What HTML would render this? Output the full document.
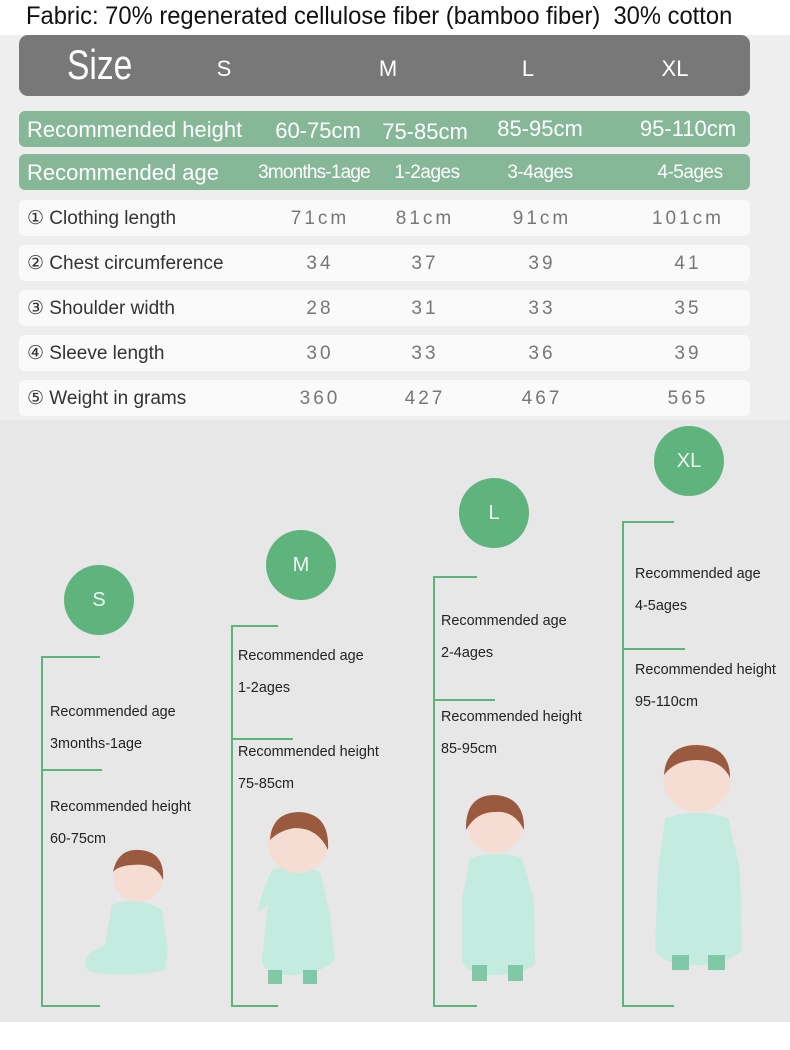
<!DOCTYPE html>
<html><head><meta charset="utf-8"><style>
*{margin:0;padding:0;box-sizing:border-box}
body{width:790px;height:1050px;background:#fff;position:relative;overflow:hidden;font-family:"Liberation Sans",sans-serif}
.a{position:absolute;white-space:nowrap}
.row{position:absolute;left:19px;width:731px;height:36px;border-radius:6px}
.g{background:#86b898;color:#fff;font-size:22px}
.w{background:#fafafa;color:#333;font-size:19px}
.v{position:absolute;transform:translateX(-50%);top:8px;letter-spacing:3px;color:#777;font-size:19px;white-space:nowrap}
.gv{position:absolute;transform:translateX(-50%);top:5px;white-space:nowrap}
.lbl{position:absolute;left:8px;top:7px;white-space:nowrap}
.t{position:absolute;font-size:15px;color:#222;white-space:nowrap;transform:scaleX(0.96);transform-origin:left}
.ln{position:absolute;background:#5cb47a}
.c{position:absolute;width:70px;height:70px;border-radius:50%;background:#5fb47e;font-size:20px;text-align:center;line-height:70px;color:#f0f6f2}
</style></head><body>
<div class="a" style="left:0;top:35px;width:790px;height:385px;background:#eeeeee"></div>
<div class="a" style="left:0;top:420px;width:790px;height:602px;background:#e7e7e7"></div>
<div class="a" style="left:26px;top:2px;font-size:25px;color:#111;transform:scaleX(0.95);transform-origin:left">Fabric: 70% regenerated cellulose fiber (bamboo fiber)&nbsp; 30% cotton</div>
<div class="row" style="top:35px;height:61px;background:#787878;border-radius:9px;color:#fff">
<div class="a" style="left:48px;top:6px;font-size:42px;transform:scaleX(0.8);transform-origin:left">Size</div>
<div class="gv" style="left:205px;top:21px;font-size:22px">S</div>
<div class="gv" style="left:369px;top:21px;font-size:22px">M</div>
<div class="gv" style="left:509px;top:21px;font-size:22px">L</div>
<div class="gv" style="left:656px;top:21px;font-size:22px">XL</div>
</div>
<div class="row g" style="top:111px">
<div class="lbl" style="top:6px">Recommended height</div>
<div class="gv" style="left:299px;top:7px">60-75cm</div><div class="gv" style="left:406px;top:8px">75-85cm</div><div class="gv" style="left:521px;top:5px">85-95cm</div><div class="gv" style="left:669px;top:5px">95-110cm</div>
</div>
<div class="row g" style="top:154px;font-size:19px">
<div class="lbl" style="font-size:22px;top:6px">Recommended age</div>
<div class="gv" style="left:295px;top:8px;letter-spacing:-0.8px">3months-1age</div><div class="gv" style="left:408px;top:8px;letter-spacing:-0.5px">1-2ages</div><div class="gv" style="left:521px;top:8px;letter-spacing:-0.5px">3-4ages</div><div class="gv" style="left:671px;top:8px;letter-spacing:-0.5px">4-5ages</div>
</div>
<div class="row w" style="top:200px"><div class="lbl">① Clothing length</div><div class="v" style="left:301px">71cm</div><div class="v" style="left:406px">81cm</div><div class="v" style="left:523px">91cm</div><div class="v" style="left:669px">101cm</div></div>
<div class="row w" style="top:245px"><div class="lbl">② Chest circumference</div><div class="v" style="left:301px">34</div><div class="v" style="left:406px">37</div><div class="v" style="left:523px">39</div><div class="v" style="left:669px">41</div></div>
<div class="row w" style="top:290px"><div class="lbl">③ Shoulder width</div><div class="v" style="left:301px">28</div><div class="v" style="left:406px">31</div><div class="v" style="left:523px">33</div><div class="v" style="left:669px">35</div></div>
<div class="row w" style="top:335px"><div class="lbl">④ Sleeve length</div><div class="v" style="left:301px">30</div><div class="v" style="left:406px">33</div><div class="v" style="left:523px">36</div><div class="v" style="left:669px">39</div></div>
<div class="row w" style="top:380px"><div class="lbl">⑤ Weight in grams</div><div class="v" style="left:301px">360</div><div class="v" style="left:406px">427</div><div class="v" style="left:523px">467</div><div class="v" style="left:669px">565</div></div>

<div class="c" style="left:64px;top:565px">S</div>
<div class="c" style="left:266px;top:530px">M</div>
<div class="c" style="left:459px;top:478px">L</div>
<div class="c" style="left:654px;top:426px">XL</div>

<div>
<div class="ln" style="left:41px;top:656px;width:2px;height:351px"></div>
<div class="ln" style="left:41px;top:656px;width:59px;height:2px"></div>
<div class="ln" style="left:41px;top:769px;width:61px;height:2px"></div>
<div class="ln" style="left:41px;top:1005px;width:59px;height:2px"></div>
</div>
<div>
<div class="ln" style="left:231px;top:625px;width:2px;height:382px"></div>
<div class="ln" style="left:231px;top:625px;width:47px;height:2px"></div>
<div class="ln" style="left:231px;top:738px;width:62px;height:2px"></div>
<div class="ln" style="left:231px;top:1005px;width:47px;height:2px"></div>
</div>
<div>
<div class="ln" style="left:433px;top:576px;width:2px;height:431px"></div>
<div class="ln" style="left:433px;top:576px;width:44px;height:2px"></div>
<div class="ln" style="left:433px;top:699px;width:62px;height:2px"></div>
<div class="ln" style="left:433px;top:1005px;width:44px;height:2px"></div>
</div>
<div>
<div class="ln" style="left:622px;top:521px;width:2px;height:486px"></div>
<div class="ln" style="left:622px;top:521px;width:52px;height:2px"></div>
<div class="ln" style="left:622px;top:648px;width:63px;height:2px"></div>
<div class="ln" style="left:622px;top:1005px;width:52px;height:2px"></div>
</div>

<div class="t" style="left:50px;top:703px">Recommended age</div>
<div class="t" style="left:50px;top:735px">3months-1age</div>
<div class="t" style="left:50px;top:798px">Recommended height</div>
<div class="t" style="left:50px;top:830px">60-75cm</div>
<div class="t" style="left:238px;top:647px">Recommended age</div>
<div class="t" style="left:238px;top:679px">1-2ages</div>
<div class="t" style="left:238px;top:743px">Recommended height</div>
<div class="t" style="left:238px;top:775px">75-85cm</div>
<div class="t" style="left:441px;top:612px">Recommended age</div>
<div class="t" style="left:441px;top:644px">2-4ages</div>
<div class="t" style="left:441px;top:708px">Recommended height</div>
<div class="t" style="left:441px;top:740px">85-95cm</div>
<div class="t" style="left:635px;top:565px">Recommended age</div>
<div class="t" style="left:635px;top:597px">4-5ages</div>
<div class="t" style="left:635px;top:661px">Recommended height</div>
<div class="t" style="left:635px;top:693px">95-110cm</div>

<svg class="a" style="left:0;top:0" width="790" height="1050">
<g>
<path d="M112 905 Q138 895 162 910 L168 950 L165 970 Q130 978 90 972 Q78 960 95 950 L105 945 Z" fill="#c4ebdf"/>
<circle cx="138" cy="877" r="25" fill="#f6ddd3"/><path d="M113 872 Q118 848 140 850 Q165 852 163 880 Q156 862 132 865 Q118 866 113 872Z" fill="#9a5a40"/>
</g>
<g>
<path d="M272 870 Q298 862 320 872 L330 915 L335 960 Q320 975 290 975 Q262 975 262 958 L268 905 L258 912 Q262 890 272 870Z" fill="#c4ebdf"/>
<rect x="268" y="970" width="14" height="14" fill="#7fc8a8"/><rect x="303" y="970" width="14" height="14" fill="#7fc8a8"/>
<circle cx="298" cy="843" r="30" fill="#f6ddd3"/><path d="M270 840 Q272 812 300 812 Q330 814 328 850 Q318 828 295 828 Q280 830 270 840Z" fill="#9a5a40"/>
</g>
<g>
<path d="M470 858 Q497 850 522 858 L534 900 L535 965 Q520 975 495 975 Q465 975 462 960 L462 900Z" fill="#c4ebdf"/>
<rect x="472" y="965" width="15" height="16" fill="#7fc8a8"/><rect x="508" y="965" width="15" height="16" fill="#7fc8a8"/>
<circle cx="495" cy="825" r="28" fill="#f6ddd3"/><path d="M466 830 Q465 795 495 795 Q525 797 524 830 Q514 810 495 812 Q476 812 466 830Z" fill="#9a5a40"/>
</g>
<g>
<path d="M665 818 Q697 808 728 818 L740 870 L742 950 Q725 965 700 965 Q662 965 655 950 L658 870Z" fill="#c4ebdf"/>
<rect x="672" y="955" width="17" height="15" fill="#7fc8a8"/><rect x="708" y="955" width="17" height="15" fill="#7fc8a8"/>
<circle cx="697" cy="778" r="34" fill="#f6ddd3"/><path d="M664 775 Q666 745 697 745 Q730 746 730 778 Q722 760 697 760 Q675 760 664 775Z" fill="#9a5a40"/>
</g>
</svg>
</body></html>
